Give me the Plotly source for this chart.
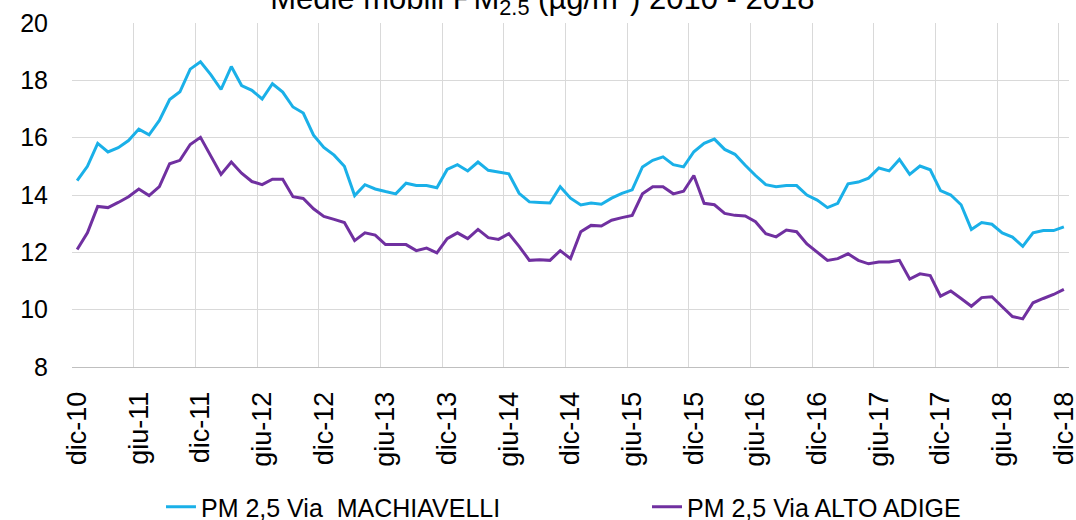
import plotly.graph_objects as go

# Months Dec 2010 .. Dec 2018 (Italian abbreviations)
month_abbr = ["gen", "feb", "mar", "apr", "mag", "giu", "lug", "ago", "set", "ott", "nov", "dic"]
categories = ["dic-10"] + [f"{m}-{y:02d}" for y in range(11, 19) for m in month_abbr]

machiavelli = [
    14.5, 15.0, 15.8, 15.5, 15.65, 15.9, 16.3, 16.1, 16.6, 17.33,
    17.6, 18.39, 18.65, 18.2, 17.68, 18.48, 17.82, 17.65, 17.35, 17.88,
    17.59, 17.07, 16.86, 16.09, 15.66, 15.39, 15.0, 13.98, 14.36, 14.21,
    14.12, 14.04, 14.41, 14.33, 14.33, 14.25, 14.89, 15.06, 14.84, 15.15,
    14.86, 14.8, 14.74, 14.06, 13.76, 13.74, 13.72, 14.29, 13.89, 13.65,
    13.72, 13.68, 13.89, 14.06, 14.18, 14.98, 15.21, 15.33, 15.06, 14.98,
    15.51, 15.8, 15.95, 15.59, 15.42, 15.04, 14.68, 14.36, 14.29, 14.33,
    14.33, 14.0, 13.82, 13.56, 13.71, 14.39, 14.45, 14.59, 14.94, 14.84,
    15.24, 14.72, 15.01, 14.88, 14.15, 14.0, 13.66, 12.8, 13.04, 12.98,
    12.68, 12.53, 12.21, 12.68, 12.76, 12.76, 12.89,
]

alto_adige = [
    12.1, 12.68, 13.6, 13.56, 13.74, 13.94, 14.21, 13.98, 14.29, 15.09,
    15.21, 15.76, 16.01, 15.36, 14.72, 15.15, 14.76, 14.47, 14.36, 14.55,
    14.55, 13.94, 13.88, 13.52, 13.25, 13.15, 13.04, 12.41, 12.68, 12.6,
    12.27, 12.27, 12.27, 12.06, 12.15, 11.98, 12.48, 12.68, 12.48, 12.8,
    12.51, 12.45, 12.65, 12.21, 11.72, 11.74, 11.72, 12.06, 11.78, 12.72,
    12.94, 12.92, 13.12, 13.21, 13.29, 14.04, 14.29, 14.29, 14.04, 14.13,
    14.68, 13.71, 13.66, 13.36, 13.29, 13.27, 13.07, 12.65, 12.54, 12.78,
    12.72, 12.29, 12.01, 11.72, 11.78, 11.95, 11.72, 11.6, 11.66, 11.66,
    11.72, 11.07, 11.25, 11.19, 10.47, 10.65, 10.39, 10.12, 10.42, 10.45,
    10.1, 9.76, 9.68, 10.24, 10.39, 10.53, 10.71,
]

series_names = ["PM 2,5 Via  MACHIAVELLI", "PM 2,5 Via ALTO ADIGE"]
y_ticks = [8, 10, 12, 14, 16, 18, 20]

idx = list(range(len(categories)))
tick_idx = idx[::6]
tick_text = [categories[i] for i in tick_idx]

grid = "#d9d9d9"
font_main = "Liberation Sans, Arial, sans-serif"

fig = go.Figure()
fig.add_trace(go.Scatter(x=idx, y=machiavelli, mode="lines", name=series_names[0],
                         customdata=categories, hovertemplate="%{customdata}: %{y}",
                         line=dict(color="#1AB0E8", width=3), legend="legend"))
fig.add_trace(go.Scatter(x=idx, y=alto_adige, mode="lines", name=series_names[1],
                         customdata=categories, hovertemplate="%{customdata}: %{y}",
                         line=dict(color="#7030A0", width=3), legend="legend2"))

legend_common = dict(orientation="h", xref="container", yref="container",
                     xanchor="left", yanchor="middle", y=0.025,
                     font=dict(family=font_main, size=25, color="#000000"),
                     bgcolor="rgba(0,0,0,0)")

fig.update_layout(
    width=1076, height=520,
    margin=dict(l=72, r=7, t=23, b=153, autoexpand=False),
    paper_bgcolor="white", plot_bgcolor="white",
    title=dict(text="Medie mobili PM<sub>2.5</sub> (µg/m<sup>3</sup>) 2010 - 2018",
               x=0.504, xanchor="center", yref="container", y=0.983, yanchor="bottom",
               font=dict(family=font_main, size=31, color="#000000")),
    showlegend=True,
    legend=dict(x=0.1496, **legend_common),
    legend2=dict(x=0.6013, **legend_common),
    xaxis=dict(range=[-0.5, 96.5], tickmode="array", tickvals=tick_idx, ticktext=tick_text,
               tickangle=-90, showgrid=False, zeroline=False, automargin=False,
               showline=True, linecolor="#bfbfbf", linewidth=1,
               ticks="", ticklabelstandoff=13, ticklabeloverflow="allow",
               tickfont=dict(family=font_main, size=27, color="#000000"),
               minor=dict(tick0=-0.5, dtick=6, showgrid=True, gridcolor=grid, gridwidth=1, ticks="")),
    yaxis=dict(range=[8, 20], tickmode="array", tickvals=y_ticks, automargin=False,
               showgrid=True, gridcolor=grid, gridwidth=1, zeroline=False,
               showline=False, ticks="", ticklabelstandoff=23,
               tickfont=dict(family=font_main, size=25, color="#000000")),
)

fig.write_html("out.html", config={"displayModeBar": False},
               post_script="document.body.style.margin='0';document.body.style.overflow='hidden';")
